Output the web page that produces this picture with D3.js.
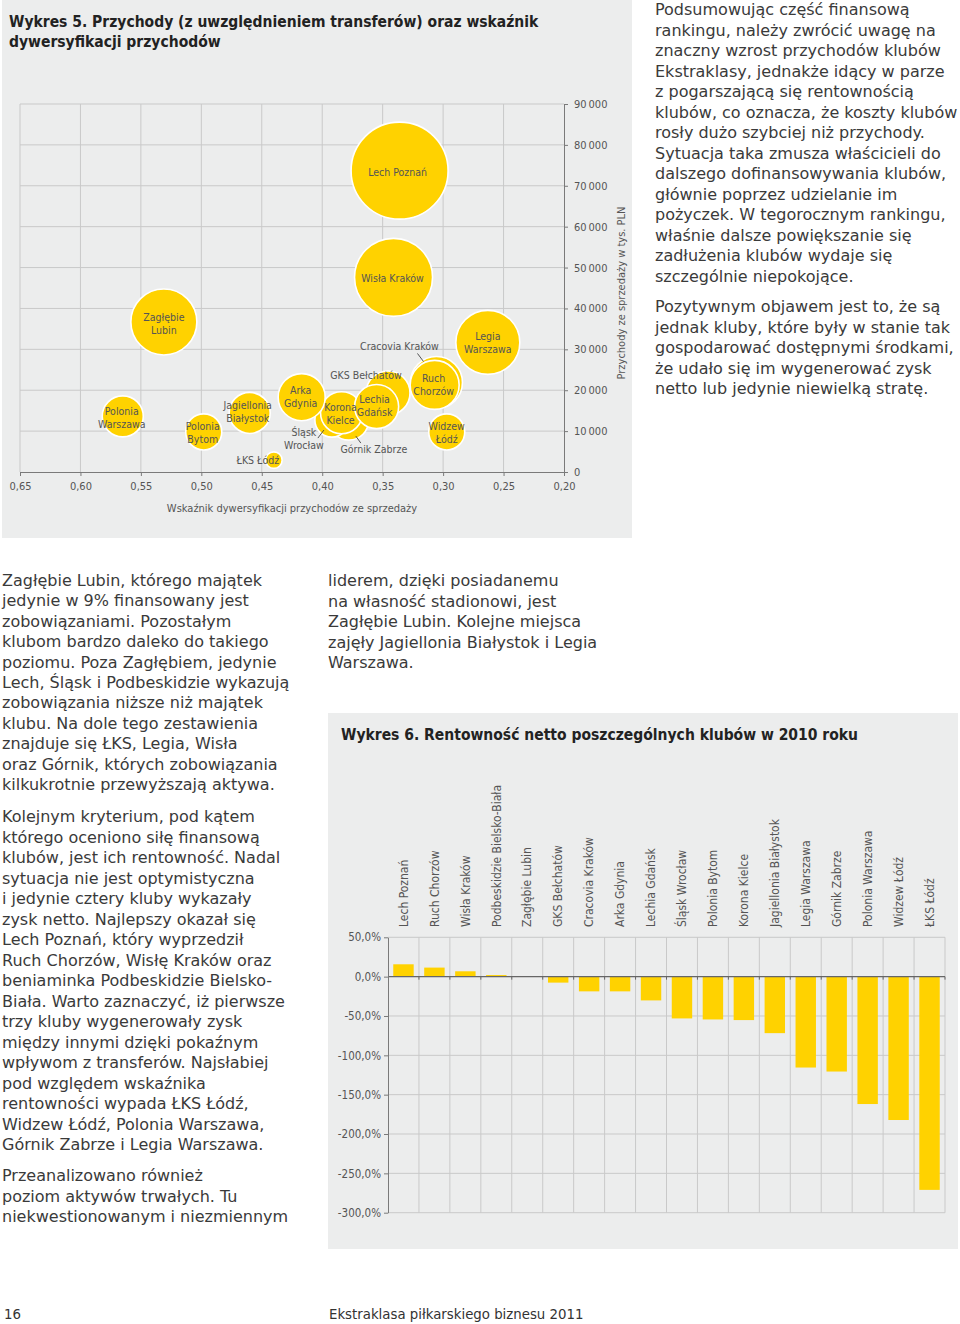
<!DOCTYPE html>
<html><head><meta charset="utf-8">
<script src="https://cdn.jsdelivr.net/npm/d3@7"></script>
<style>
body{margin:0;background:#fff;}
svg{display:block;}
.body{font-family:"DejaVu Sans",sans-serif;font-size:16px;fill:#3a3a3a;}
.lbl{font-family:"DejaVu Sans Condensed","DejaVu Sans",sans-serif;font-stretch:condensed;font-size:10.5px;fill:#555;}
.tick text{font-family:"DejaVu Sans Condensed","DejaVu Sans",sans-serif;font-stretch:condensed;font-size:11px;fill:#555;}
.ttl{font-family:"DejaVu Sans Condensed","DejaVu Sans",sans-serif;font-stretch:condensed;font-weight:bold;font-size:15.5px;fill:#222;}
</style></head><body><svg id="c" width="960" height="1324"></svg>
<script>
// ---------- Data: Wykres 5 (bubble) ----------
const clubs = ["Lech Poznań","Wisła Kraków","Zagłębie Lubin","Legia Warszawa","Cracovia Kraków","Ruch Chorzów",
  "Górnik Zabrze","Śląsk Wrocław","Korona Kielce","GKS Bełchatów","Lechia Gdańsk","Arka Gdynia",
  "Jagiellonia Białystok","Polonia Warszawa","Polonia Bytom","Widzew Łódź","ŁKS Łódź"];
const diversification = [0.336,0.341,0.531,0.263,0.3055,0.307,0.378,0.392,0.384,0.3456,0.355,0.417,0.460,0.565,0.498,0.297,0.440];
const revenue = [73700,47600,36700,31700,21900,21300,12700,12700,14500,19300,16000,18300,14450,13600,9800,9800,2900];
const bubbleSize = [100,64.7,46.3,43.5,28.7,25.5,17,12.3,18.8,20.6,20.6,23.5,17.9,17.9,13.8,13.8,2.9];
const xTicks = [0.65,0.60,0.55,0.50,0.45,0.40,0.35,0.30,0.25,0.20];
const yTicks = [0,10000,20000,30000,40000,50000,60000,70000,80000,90000];

// ---------- Data: Wykres 6 (bars) ----------
const barClubs = ["Lech Poznań","Ruch Chorzów","Wisła Kraków","Podbeskidzie Bielsko-Biała","Zagłębie Lubin",
  "GKS Bełchatów","Cracovia Kraków","Arka Gdynia","Lechia Gdańsk","Śląsk Wrocław","Polonia Bytom",
  "Korona Kielce","Jagiellonia Białystok","Legia Warszawa","Górnik Zabrze","Polonia Warszawa","Widzew Łódź","ŁKS Łódź"];
const profitability = [15.7,11.5,6.8,2.0,0.3,-7.6,-18.7,-18.7,-30.2,-53.1,-54.4,-55.2,-71.8,-115.5,-120.6,-161.9,-182.2,-271.0];
const barTicks = [50,0,-50,-100,-150,-200,-250,-300];

// ---------- Label layout (style only) ----------
const labelLayout = {
  "Lech Poznań":{lines:["Lech Poznań"],dx:-2,dy:1},
  "Wisła Kraków":{lines:["Wisła Kraków"],dx:-1,dy:1},
  "Zagłębie Lubin":{lines:["Zagłębie","Lubin"],dx:0,dy:2},
  "Legia Warszawa":{lines:["Legia","Warszawa"],dx:0,dy:0},
  "Cracovia Kraków":{lines:["Cracovia Kraków"],dx:-37,dy:-36,lead:[[-19,-29],[-13,-21]]},
  "Ruch Chorzów":{lines:["Ruch","Chorzów"],dx:-1,dy:0},
  "Górnik Zabrze":{lines:["Górnik Zabrze"],dx:25,dy:29,lead:[[12,23],[7,16]]},
  "Śląsk Wrocław":{lines:["Śląsk","Wrocław"],dx:-28,dy:18,lead:[[-14,18],[-8,10]]},
  "Korona Kielce":{lines:["Korona","Kielce"],dx:-1,dy:1},
  "GKS Bełchatów":{lines:["GKS Bełchatów"],dx:-22,dy:-18},
  "Lechia Gdańsk":{lines:["Lechia","Gdańsk"],dx:-2,dy:-1},
  "Arka Gdynia":{lines:["Arka","Gdynia"],dx:-1,dy:-1},
  "Jagiellonia Białystok":{lines:["Jagiellonia","Białystok"],dx:-2,dy:-1},
  "Polonia Warszawa":{lines:["Polonia","Warszawa"],dx:-1,dy:1},
  "Polonia Bytom":{lines:["Polonia","Bytom"],dx:-1,dy:1},
  "Widzew Łódź":{lines:["Widzew","Łódź"],dx:0,dy:1},
  "ŁKS Łódź":{lines:["ŁKS Łódź"],dx:-16,dy:0}
};

// ---------- Text ----------
const textRight1 = ["Podsumowując część finansową","rankingu, należy zwrócić uwagę na","znaczny wzrost przychodów klubów",
 "Ekstraklasy, jednakże idący w parze","z pogarszającą się rentownością","klubów, co oznacza, że koszty klubów",
 "rosły dużo szybciej niż przychody.","Sytuacja taka zmusza właścicieli do","dalszego dofinansowywania klubów,",
 "głównie poprzez udzielanie im","pożyczek. W tegorocznym rankingu,","właśnie dalsze powiększanie się",
 "zadłużenia klubów wydaje się","szczególnie niepokojące."];
const textRight2 = ["Pozytywnym objawem jest to, że są","jednak kluby, które były w stanie tak","gospodarować dostępnymi środkami,",
 "że udało się im wygenerować zysk","netto lub jedynie niewielką stratę."];
const textLeft1 = ["Zagłębie Lubin, którego majątek","jedynie w 9% finansowany jest","zobowiązaniami. Pozostałym",
 "klubom bardzo daleko do takiego","poziomu. Poza Zagłębiem, jedynie","Lech, Śląsk i Podbeskidzie wykazują",
 "zobowiązania niższe niż majątek","klubu. Na dole tego zestawienia","znajduje się ŁKS, Legia, Wisła",
 "oraz Górnik, których zobowiązania","kilkukrotnie przewyższają aktywa."];
const textLeft2 = ["Kolejnym kryterium, pod kątem","którego oceniono siłę finansową","klubów, jest ich rentowność. Nadal",
 "sytuacja nie jest optymistyczna","i jedynie cztery kluby wykazały","zysk netto. Najlepszy okazał się",
 "Lech Poznań, który wyprzedził","Ruch Chorzów, Wisłę Kraków oraz","beniaminka Podbeskidzie Bielsko-",
 "Biała. Warto zaznaczyć, iż pierwsze","trzy kluby wygenerowały zysk","między innymi dzięki pokaźnym",
 "wpływom z transferów. Najsłabiej","pod względem wskaźnika","rentowności wypada ŁKS Łódź,",
 "Widzew Łódź, Polonia Warszawa,","Górnik Zabrze i Legia Warszawa."];
const textLeft3 = ["Przeanalizowano również","poziom aktywów trwałych. Tu","niekwestionowanym i niezmiennym"];
const textMid = ["liderem, dzięki posiadanemu","na własność stadionowi, jest","Zagłębie Lubin. Kolejne miejsca",
 "zajęły Jagiellonia Białystok i Legia","Warszawa."];

const YELLOW = "#FFD200", PANEL = "#ECEDED", GRID = "#c9c9c9", AXIS = "#7a7a7a";
const svg = d3.select("#c");
const loc = d3.formatLocale({decimal:",",thousands:"\u2009",grouping:[3],currency:["",""],minus:"-"});

// ---------- Panels ----------
svg.append("rect").attr("x",2).attr("y",0).attr("width",630).attr("height",538).attr("fill",PANEL);
svg.append("rect").attr("x",328).attr("y",713).attr("width",630).attr("height",536).attr("fill",PANEL);

// ---------- Wykres 5 ----------
svg.append("text").attr("class","ttl").attr("x",9).attr("y",27).text("Wykres 5. Przychody (z uwzględnieniem transferów) oraz wskaźnik");
svg.append("text").attr("class","ttl").attr("x",9).attr("y",47).text("dywersyfikacji przychodów");

const x5 = d3.scaleLinear().domain([0.65,0.20]).range([20,564]);
const y5 = d3.scaleLinear().domain([0,90000]).range([472,104]);
const r5 = d3.scaleSqrt().domain([0,100]).range([0,48.5]);

const g5 = svg.append("g");
g5.selectAll(".vg").data(xTicks.slice(0,-1)).join("line")
  .attr("x1",d=>x5(d)).attr("x2",d=>x5(d)).attr("y1",y5(90000)).attr("y2",y5(0))
  .attr("stroke",GRID).attr("stroke-width",1);
g5.selectAll(".hg").data(yTicks.slice(1)).join("line")
  .attr("x1",x5(0.65)).attr("x2",x5(0.20)).attr("y1",d=>y5(d)).attr("y2",d=>y5(d))
  .attr("stroke",GRID).attr("stroke-width",1);

const ax5 = g5.append("g").attr("transform",`translate(0,${y5(0)})`)
  .call(d3.axisBottom(x5).tickValues(xTicks).tickSize(4).tickSizeOuter(0).tickPadding(6).tickFormat(loc.format(".2f")));
const ay5 = g5.append("g").attr("transform",`translate(${x5(0.20)},0)`)
  .call(d3.axisRight(y5).tickValues(yTicks).tickSize(4).tickSizeOuter(0).tickPadding(6).tickFormat(loc.format(",d")));
[ax5,ay5].forEach(a=>{a.select(".domain").attr("stroke",AXIS);a.selectAll(".tick line").attr("stroke",AXIS);});

g5.append("text").attr("class","lbl").attr("x",292).attr("y",512).attr("text-anchor","middle")
  .style("font-size","11px").text("Wskaźnik dywersyfikacji przychodów ze sprzedaży");
g5.append("text").attr("class","lbl").attr("transform","translate(625,293) rotate(-90)").attr("text-anchor","middle")
  .style("font-size","11px").text("Przychody ze sprzedaży w tys. PLN");

const bubbles = clubs.map((c,i)=>({name:c,x:x5(diversification[i]),y:y5(revenue[i]),r:r5(bubbleSize[i])}));
g5.selectAll("circle.b").data(bubbles).join("circle")
  .attr("cx",d=>d.x).attr("cy",d=>d.y).attr("r",d=>d.r)
  .attr("fill",YELLOW).attr("stroke","#fff").attr("stroke-width",1.6);

bubbles.forEach(b=>{
  const L = labelLayout[b.name];
  const cx = b.x + L.dx, cy = b.y + L.dy;
  const lh = 13, n = L.lines.length;
  const t = g5.append("text").attr("class","lbl").attr("text-anchor","middle");
  L.lines.forEach((s,k)=>{
    t.append("tspan").attr("x",cx).attr("y",cy + (k-(n-1)/2)*lh + 4).text(s);
  });
  if(L.lead){
    g5.append("line").attr("x1",b.x+L.lead[0][0]).attr("y1",b.y+L.lead[0][1])
      .attr("x2",b.x+L.lead[1][0]).attr("y2",b.y+L.lead[1][1]).attr("stroke","#444").attr("stroke-width",0.9);
  }
});

// ---------- Wykres 6 ----------
svg.append("text").attr("class","ttl").attr("x",341).attr("y",740).text("Wykres 6. Rentowność netto poszczególnych klubów w 2010 roku");

const x6 = d3.scaleBand().domain(barClubs).range([388,945]);
const y6 = d3.scaleLinear().domain([-300,50]).range([1212.7,937.3]);
const bw = x6.bandwidth();
const g6 = svg.append("g");
const bounds = barClubs.slice(1).map(c=>x6(c)).concat([945]);
g6.selectAll(".hg").data(barTicks.filter(d=>d!==0)).join("line")
  .attr("x1",388).attr("x2",945).attr("y1",d=>y6(d)).attr("y2",d=>y6(d)).attr("stroke",GRID);
g6.selectAll(".vg").data(bounds).join("line")
  .attr("x1",d=>d).attr("x2",d=>d).attr("y1",y6(50)).attr("y2",y6(-300)).attr("stroke",GRID);

g6.selectAll("rect.bar").data(barClubs.map((c,i)=>({c,v:profitability[i]}))).join("rect")
  .attr("x",d=>x6(d.c)+bw*0.17).attr("width",bw*0.66)
  .attr("y",d=>y6(Math.max(0,d.v))).attr("height",d=>Math.abs(y6(d.v)-y6(0)))
  .attr("fill",YELLOW);

// zero line with small ticks
g6.append("line").attr("x1",388).attr("x2",945).attr("y1",y6(0)).attr("y2",y6(0)).attr("stroke","#666").attr("stroke-width",1.2);
g6.selectAll(".zt").data(bounds).join("line")
  .attr("x1",d=>d).attr("x2",d=>d).attr("y1",y6(0)).attr("y2",y6(0)+3).attr("stroke","#666");

const ay6 = g6.append("g").attr("transform","translate(388,0)")
  .call(d3.axisLeft(y6).tickValues(barTicks).tickSize(4).tickSizeOuter(0).tickPadding(3)
    .tickFormat(d=>loc.format(".1f")(d)+"%"));
ay6.select(".domain").attr("stroke",AXIS);
ay6.selectAll(".tick line").attr("stroke",AXIS);
ay6.selectAll(".tick text").style("font-size","11.5px");

g6.selectAll("text.cl").data(barClubs).join("text").attr("class","lbl")
  .attr("transform",d=>`translate(${x6(d)+bw/2},927) rotate(-90)`)
  .attr("dy","0.35em").style("font-size","12px").text(d=>d);

// ---------- Body text ----------
function para(lines,x,y0,lh){
  const t = svg.append("text").attr("class","body");
  lines.forEach((s,i)=>t.append("tspan").attr("x",x).attr("y",y0+i*lh).text(s));
}
para(textRight1,655,15,20.5);
para(textRight2,655,312,20.5);
para(textLeft1,2,586,20.4);
para(textLeft2,2,822,20.5);
para(textLeft3,2,1181,20.5);
para(textMid,328,586,20.5);

svg.append("text").attr("class","lbl").attr("x",4).attr("y",1319).style("font-size","14.8px").style("fill","#333").text("16");
svg.append("text").attr("class","lbl").attr("x",329).attr("y",1319).style("font-size","14.8px").style("fill","#333").text("Ekstraklasa piłkarskiego biznesu 2011");
</script></body></html>
